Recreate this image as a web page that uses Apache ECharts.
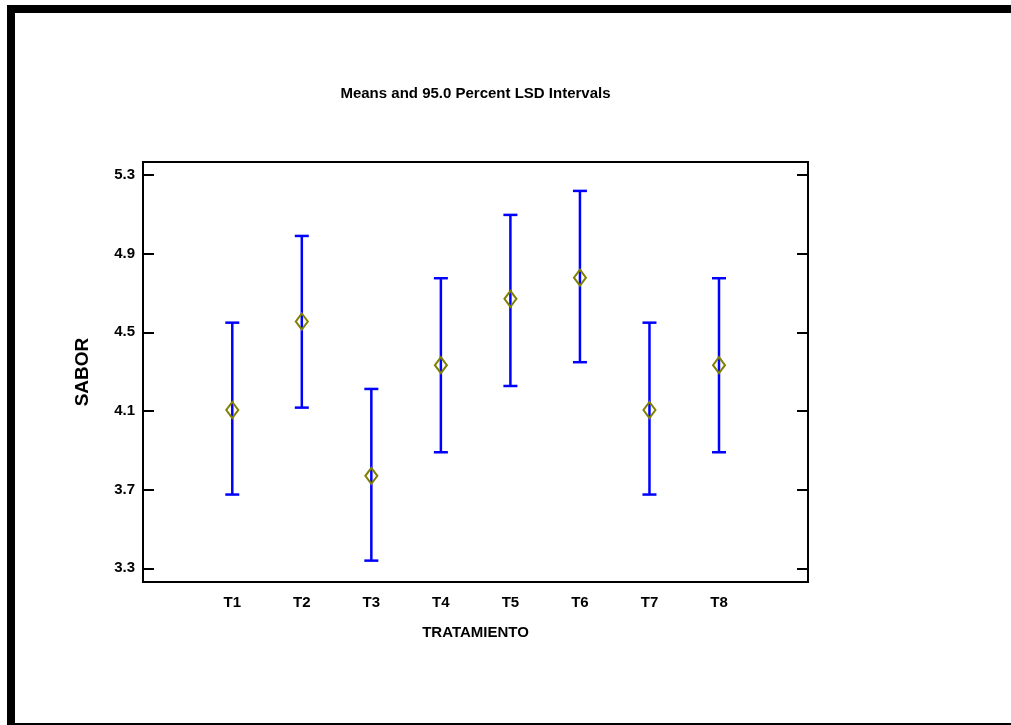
<!DOCTYPE html>
<html>
<head>
<meta charset="utf-8">
<script src="https://cdn.jsdelivr.net/npm/echarts@6/dist/echarts.min.js"></script>
<style>
html,body{margin:0;padding:0;background:#fff;}
#chart{width:1011px;height:725px;}
</style>
</head>
<body>
<div id="chart"></div>
<script>
const categories = ['T1','T2','T3','T4','T5','T6','T7','T8'];
const means = [4.105, 4.555, 3.770, 4.333, 4.670, 4.778, 4.105, 4.333];
const lower = [3.675, 4.117, 3.339, 3.890, 4.227, 4.348, 3.675, 3.890];
const upper = [4.549, 4.990, 4.212, 4.775, 5.097, 5.219, 4.549, 4.775];
const yTicks = [3.3, 3.7, 4.1, 4.5, 4.9, 5.3];
const titleText = 'Means and 95.0 Percent LSD Intervals';
const xName = 'TRATAMIENTO';
const yName = 'SABOR';

const font = '"Liberation Sans", Arial, sans-serif';
const data = categories.map((c, i) => [i, means[i], lower[i], upper[i]]);

const chart = echarts.init(document.getElementById('chart'), null, {renderer: 'canvas'});
chart.setOption({
  animation: false,
  backgroundColor: '#ffffff',
  title: {
    text: titleText,
    left: 475.5,
    top: 86,
    textAlign: 'center',
    padding: 0,
    textStyle: {fontFamily: font, fontWeight: 'bold', fontSize: 15, color: '#000'}
  },
  graphic: [{
    type: 'rect',
    shape: {x: 11, y: 9, width: 2000, height: 718},
    style: {fill: 'none', stroke: '#000', lineWidth: 8},
    silent: true, z: 100
  }],
  grid: {
    left: 143, top: 162, width: 665, height: 420,
    show: true, borderColor: '#000', borderWidth: 2, backgroundColor: 'transparent'
  },
  xAxis: {
    type: 'value',
    min: -1.284, max: 8.28,
    axisLine: {show: false, onZero: false},
    axisTick: {show: false},
    splitLine: {show: false},
    axisLabel: {
      customValues: categories.map((c, i) => i),
      formatter: v => categories[Math.round(v)],
      margin: 13,
      fontFamily: font, fontWeight: 'bold', fontSize: 15, color: '#000'
    },
    name: xName,
    nameLocation: 'middle',
    nameGap: 43,
    nameTextStyle: {fontFamily: font, fontWeight: 'bold', fontSize: 15, color: '#000'}
  },
  yAxis: [{
    type: 'value',
    min: 3.2303, max: 5.366,
    position: 'left',
    axisLine: {show: false, onZero: false},
    splitLine: {show: false},
    axisTick: {show: true, inside: true, length: 11, customValues: yTicks, lineStyle: {color: '#000', width: 2}},
    axisLabel: {
      customValues: yTicks,
      formatter: v => v.toFixed(1),
      margin: 8,
      fontFamily: font, fontWeight: 'bold', fontSize: 15, color: '#000'
    },
    name: yName,
    nameLocation: 'middle',
    nameGap: 51,
    nameRotate: 90,
    nameTextStyle: {fontFamily: font, fontWeight: 'bold', fontSize: 19, color: '#000'}
  }, {
    type: 'value',
    min: 3.2303, max: 5.366,
    position: 'right',
    axisLine: {show: false, onZero: false},
    splitLine: {show: false},
    axisTick: {show: true, inside: true, length: 11, customValues: yTicks, lineStyle: {color: '#000', width: 2}},
    axisLabel: {show: false}
  }],
  series: [{
    type: 'custom',
    data: data,
    encode: {x: 0, y: 1},
    renderItem: function (params, api) {
      const i = api.value(0);
      const pm = api.coord([i, api.value(1)]);
      const pl = api.coord([i, api.value(2)]);
      const pu = api.coord([i, api.value(3)]);
      const cw = 7;
      const dw = 6, dh = 8;
      const blue = {stroke: '#0000ff', lineWidth: 2.5};
      return {
        type: 'group',
        children: [
          {type: 'line', shape: {x1: pl[0], y1: pl[1], x2: pu[0], y2: pu[1]}, style: blue},
          {type: 'line', shape: {x1: pu[0]-cw, y1: pu[1], x2: pu[0]+cw, y2: pu[1]}, style: blue},
          {type: 'line', shape: {x1: pl[0]-cw, y1: pl[1], x2: pl[0]+cw, y2: pl[1]}, style: blue},
          {type: 'polygon', shape: {points: [[pm[0], pm[1]-dh], [pm[0]+dw, pm[1]], [pm[0], pm[1]+dh], [pm[0]-dw, pm[1]]]},
           style: {fill: 'none', stroke: '#808000', lineWidth: 2}}
        ]
      };
    }
  }]
});
</script>
</body>
</html>
